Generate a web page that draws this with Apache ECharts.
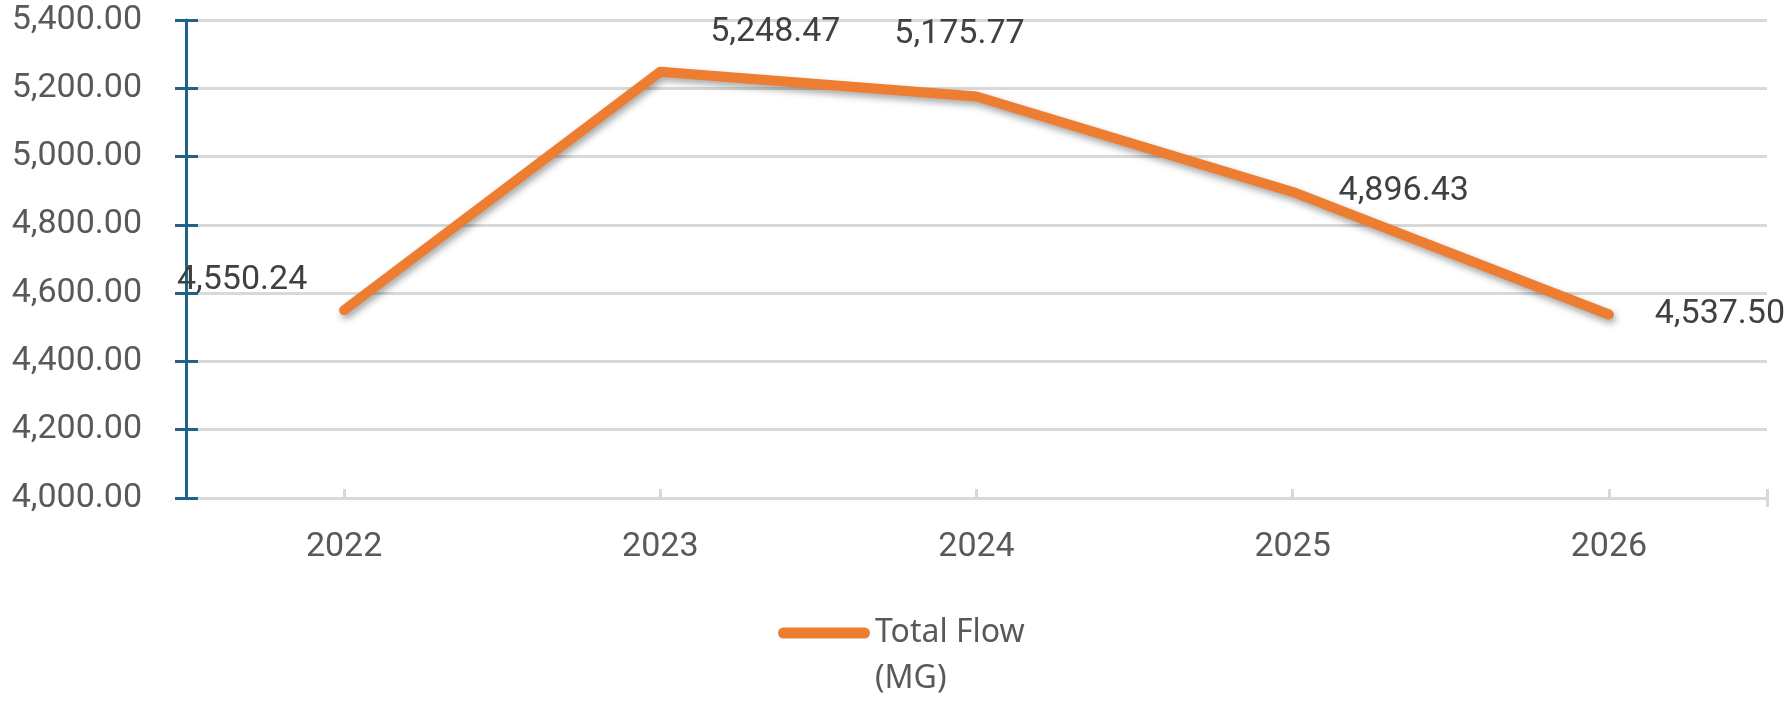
<!DOCTYPE html>
<html>
<head>
<meta charset="utf-8">
<script src="https://cdn.jsdelivr.net/npm/echarts@6/dist/echarts.min.js"></script>
<style>
  html, body { margin: 0; padding: 0; background: #fff; }
  #chart { width: 1791px; height: 703px; }
</style>
</head>
<body>
<div id="chart"></div>
<script>
// chart data
const years = ['2022', '2023', '2024', '2025', '2026'];
const totalFlow = [4550.24, 5248.47, 5175.77, 4896.43, 4537.50];
const seriesName = 'Total Flow (MG)';
const yMin = 4000, yMax = 5400, yStep = 200;

// label placement relative to each point (px)
const labelOffsets = [[-102, -30], [115, -39], [-17, -62], [111, 0], [111, 0]];

const axisBlue = '#1f6388';
const gridGray = '#d9d9d9';
const orange = '#ed7d31';
const fmt = v => v.toLocaleString('en-US', { minimumFractionDigits: 2, maximumFractionDigits: 2 });

const myChart = echarts.init(document.getElementById('chart'));

const yBase = {
  type: 'value', min: yMin, max: yMax, interval: yStep, position: 'left'
};

// half-category slots, used only to place the crossing tick marks on the x axis
const halfSlots = Array.from({ length: years.length * 2 + 1 }, (_, i) => String(i));
const tickAxis = (inside, pick) => ({
  type: 'category',
  data: halfSlots,
  boundaryGap: false,
  position: 'bottom',
  axisLine: { show: false },
  axisLabel: { show: false },
  splitLine: { show: false },
  axisTick: { show: true, inside: inside, length: 9, interval: pick, lineStyle: { color: gridGray, width: 3 } }
});

let option = {
  animation: false,
  grid: { left: 186, right: 24, top: 20, bottom: 205 },
  legend: {
    left: 773, top: 559,
    itemWidth: 92, itemHeight: 11,
    icon: 'path://M5.5,0 H86.5 A5.5,5.5 0 0 1 86.5,11 H5.5 A5.5,5.5 0 0 1 5.5,0 Z',
    itemStyle: { color: orange },
    // blank first line keeps "Total Flow" level with the icon, "(MG)" wraps below
    formatter: () => '\nTotal Flow\n(MG)',
    textStyle: { fontFamily: 'Noto Sans', fontSize: 32, color: '#595959', lineHeight: 46 }
  },
  xAxis: [
    {
      type: 'category',
      data: years,
      boundaryGap: true,
      axisLine: { lineStyle: { color: gridGray, width: 3 } },
      axisTick: { alignWithLabel: true, length: 9, lineStyle: { color: gridGray, width: 3 } },
      axisLabel: { fontFamily: 'Roboto', fontSize: 34, color: '#595959', margin: 32 },
      splitLine: { show: false }
    },
    tickAxis(true, i => i % 2 === 1 || i === halfSlots.length - 1),
    tickAxis(false, i => i === halfSlots.length - 1)
  ],
  yAxis: [
    Object.assign({}, yBase, {
      axisLine: { show: true, lineStyle: { color: axisBlue, width: 3 } },
      axisTick: { show: true, length: 11, lineStyle: { color: axisBlue, width: 3 } },
      axisLabel: { fontFamily: 'Roboto', fontSize: 34, color: '#595959', margin: 44, formatter: fmt },
      splitLine: { show: true, lineStyle: { color: gridGray, width: 3 } }
    }),
    Object.assign({}, yBase, {
      axisLine: { show: false },
      axisTick: { show: true, inside: true, length: 12, lineStyle: { color: axisBlue, width: 3 } },
      axisLabel: { show: false },
      splitLine: { show: false }
    })
  ],
  series: [{
    name: seriesName,
    type: 'line',
    xAxisIndex: 0,
    yAxisIndex: 0,
    symbol: 'circle',
    symbolSize: 1,
    itemStyle: { color: 'rgba(0,0,0,0)' },
    lineStyle: {
      color: orange, width: 10, cap: 'round', join: 'round',
      shadowColor: 'rgba(0,0,0,0.35)', shadowBlur: 7, shadowOffsetX: 2, shadowOffsetY: 4
    },
    label: {
      show: true, position: 'inside',
      fontFamily: 'Roboto', fontSize: 34, color: '#404040',
      formatter: p => fmt(p.value)
    },
    data: totalFlow.map((v, i) => ({ value: v, label: { offset: labelOffsets[i] } })),
    z: 3
  }]
};

myChart.setOption(option, true);
</script>
</body>
</html>
